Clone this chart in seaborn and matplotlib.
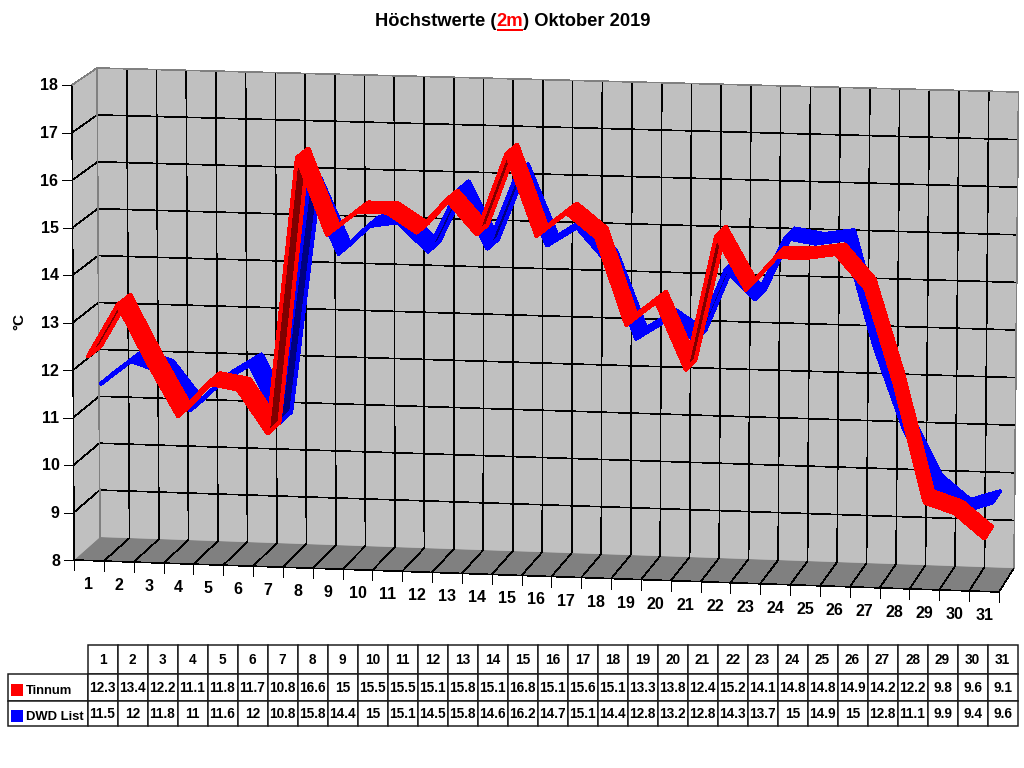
import numpy as np
import pandas as pd
import seaborn as sns
import matplotlib.pyplot as plt

dias = list(range(1, 32))
tinnum = [12.3, 13.4, 12.2, 11.1, 11.8, 11.7, 10.8, 16.6, 15, 15.5, 15.5, 15.1, 15.8, 15.1, 16.8, 15.1,
          15.6, 15.1, 13.3, 13.8, 12.4, 15.2, 14.1, 14.8, 14.8, 14.9, 14.2, 12.2, 9.8, 9.6, 9.1]
dwd = [11.5, 12, 11.8, 11, 11.6, 12, 10.8, 15.8, 14.4, 15, 15.1, 14.5, 15.8, 14.6, 16.2, 14.7,
       15.1, 14.4, 12.8, 13.2, 12.8, 14.3, 13.7, 15, 14.9, 15, 12.8, 11.1, 9.9, 9.4, 9.6]
ticks_y = list(range(8, 19))

W, H = 1024, 768
sns.set_theme(style='white')
plt.rcParams['font.family'] = ['Liberation Sans', 'DejaVu Sans']
plt.rcParams['font.weight'] = 'bold'

fig = plt.figure(figsize=(W / 100, H / 100), dpi=100)
ax = fig.add_axes([0, 0, 1, 1])
ax.axis('off')

PX = 0.72  # un pixel en puntos

# Esquinas de la caja 3D en pixeles: (frente/fondo, izq/der, abajo/arriba)
FRENTE = np.array([[[74, 560], [72, 85]], [[999, 592], [1001, 109]]], dtype=float)
FONDO = np.array([[[100, 537], [97, 68]], [[1014, 568], [1018.5, 92]]], dtype=float)


def proy(i, v, d):
    # i: posicion 0..31, v: grados, d: profundidad 0 (frente) a 1 (fondo)
    u = i / 31
    t = (v - 8) / 10
    f = (1 - u) * ((1 - t) * FRENTE[0, 0] + t * FRENTE[0, 1]) + u * ((1 - t) * FRENTE[1, 0] + t * FRENTE[1, 1])
    b = (1 - u) * ((1 - t) * FONDO[0, 0] + t * FONDO[0, 1]) + u * ((1 - t) * FONDO[1, 0] + t * FONDO[1, 1])
    return (1 - d) * f + d * b


def linea(p, q, color='black', lw=0.45, z=2):
    ax.plot([p[0], q[0]], [p[1], q[1]], color=color, lw=lw, zorder=z, antialiased=False,
            solid_capstyle='butt')


# Paredes y piso
pared = '#c0c0c0'
piso = '#808080'
ax.fill(*zip(proy(0, 8, 0), proy(0, 18, 0), proy(0, 18, 1), proy(0, 8, 1)), color=pared, lw=0, zorder=1)
ax.fill(*zip(proy(0, 8, 1), proy(0, 18, 1), proy(31, 18, 1), proy(31, 8, 1)), color=pared, lw=0, zorder=1)
ax.fill(*zip(proy(0, 8, 0), proy(0, 8, 1), proy(31, 8, 1), proy(31, 8, 0)), color=piso, lw=0, zorder=1)

for v in ticks_y:
    if v > 8:
        linea(proy(0, v, 0), proy(0, v, 1))
        if v < 18:
            linea(proy(0, v, 1), proy(31, v, 1))
    a = proy(0, v, 0)
    linea(a, a + [-10, 0])
    ax.text(a[0] - 14, a[1] + 1, str(v), ha='right', va='center', fontsize=11.5, color='black', zorder=8)

for i in range(32):
    if 0 < i < 31:
        linea(proy(i, 8, 1), proy(i, 18, 1))
    if i > 0:
        linea(proy(i, 8, 0), proy(i, 8, 1))
    a = proy(i, 8, 0)
    linea(a, a + [0, 10])

linea(proy(0, 8, 0), proy(31, 8, 0))
linea(proy(0, 8, 0), proy(0, 18, 0))
# Bordes grises de la pared
linea(proy(0, 18, 0), proy(0, 18, 1), color=piso, z=3)
linea(proy(0, 18, 1), proy(31, 18, 1), color=piso, z=3)
linea(proy(0, 18, 1), proy(0, 8, 1), color=piso, z=3)
linea(proy(31, 18, 1), proy(31, 8, 1), color=piso, z=3)

for k, dia in enumerate(dias):
    a = proy(k + 0.5, 8, 0)
    ax.text(a[0], a[1] + 24, str(dia), ha='center', va='center', fontsize=11.5, color='black', zorder=8)

# Cintas de las dos series: azul atras, rojo adelante
series = [('DWD List', dwd, 0.5, 1.0, '#0000ff', '#000080', 4),
          ('Tinnum', tinnum, 0.0, 0.5, '#ff0000', '#800000', 6)]

for nombre, valores, d0, d1, color, oscuro, z in series:
    filas = []
    for k, v in enumerate(valores):
        for borde, d in (('frente', d0), ('fondo', d1)):
            p = proy(k + 0.5, v, d)
            filas.append({'x': p[0], 'y': p[1], 'borde': borde})
    df = pd.DataFrame(filas)
    sns.lineplot(data=df, x='x', y='y', units='borde', estimator=None, sort=False, color=color,
                 lw=3 * PX, legend=False, ax=ax, zorder=z)
    for k in range(len(valores) - 1):
        a = proy(k + 0.5, valores[k], d0)
        b = proy(k + 1.5, valores[k + 1], d0)
        c = proy(k + 1.5, valores[k + 1], d1)
        e = proy(k + 0.5, valores[k], d1)
        # Area con signo: indica si se ve la cara de arriba o la de abajo
        xs = np.array([a[0], b[0], c[0], e[0]])
        ys = np.array([a[1], b[1], c[1], e[1]])
        area = np.sum(xs * np.roll(ys, -1) - np.roll(xs, -1) * ys)
        ax.fill(xs, ys, facecolor=color if area < 0 else oscuro, edgecolor=color, lw=3 * PX,
                joinstyle='round', antialiased=False, zorder=z + 1)

# Titulo en tres partes, con 2m en rojo y subrayado
r = fig.canvas.get_renderer()
partes = [('Höchstwerte (', 'black'), ('2m', 'red'), (') Oktober 2019', 'black')]
textos = [ax.text(0, 21.5, t, color=c, fontsize=13.2, ha='left', va='center', zorder=8) for t, c in partes]
anchos = [t.get_window_extent(r).width for t in textos]
x = 513 - sum(anchos) / 2
for t, ancho, (_, c) in zip(textos, anchos, partes):
    t.set_x(x)
    if c == 'red':
        linea((x, 30), (x + ancho, 30), color='red', lw=2 * PX, z=8)
    x += ancho

ax.text(19, 322, '°C', rotation=90, ha='center', va='center', fontsize=11, color='black')

# Tabla de datos
col0, colw = 80, 30
alturas = [29, 27, 25]
x0, y0 = 7.5, 645
celdas = [[str(d) for d in dias], [f'{v:g}' for v in tinnum], [f'{v:g}' for v in dwd]]
texto_tabla = [[''] + fila for fila in celdas]
ancho_total = col0 + colw * 31
tabla = ax.table(cellText=texto_tabla, colWidths=[col0] + [colw] * 31, cellLoc='center',
                 bbox=[x0 / W, 1 - (y0 + sum(alturas)) / H, ancho_total / W, sum(alturas) / H])
tabla.auto_set_font_size(False)
tabla.set_fontsize(9.8)
for (fi, co), celda in tabla.get_celld().items():
    celda.set_height(alturas[fi])
    celda.set_linewidth(1.5 * PX)
    celda.PAD = 0.02
    celda.get_text().set_fontweight('bold')
    celda.get_text().set_color('black')
    if fi == 0 and co == 0:
        celda.set_visible(False)
tabla.set_zorder(7)

for nombre, color, ym in (('Tinnum', '#ff0000', 690), ('DWD List', '#0000ff', 716)):
    ax.fill([11, 23, 23, 11], [ym - 6, ym - 6, ym + 6, ym + 6], color=color, lw=0, zorder=8)
    ax.text(26, ym + 0.5, nombre, ha='left', va='center', fontsize=9.4, color='black', zorder=8)

ax.set_xlim(0, W)
ax.set_ylim(H, 0)
ax.set_xlabel('')
ax.set_ylabel('')
fig.savefig('out.png', dpi=100)
